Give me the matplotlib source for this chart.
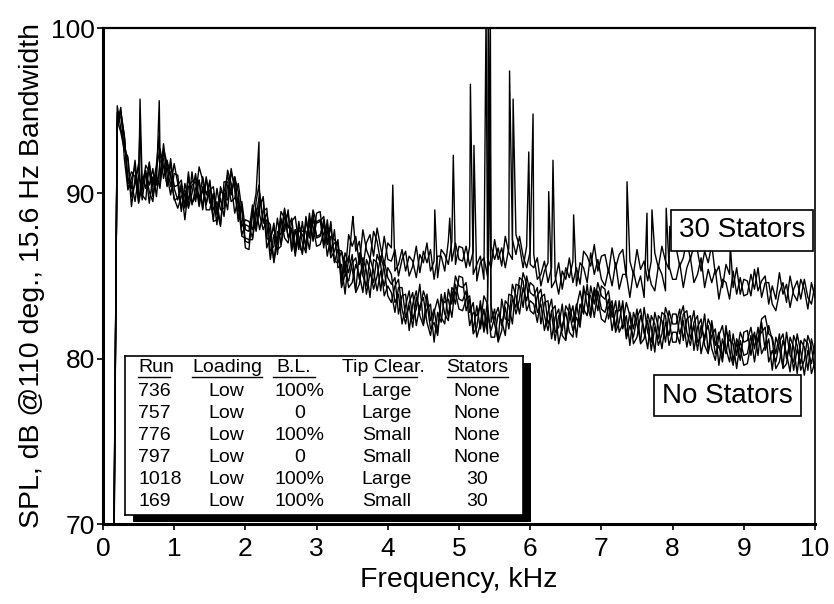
import numpy as np
import matplotlib.pyplot as plt
from matplotlib.patches import Rectangle

plt.rcParams['font.family'] = ['Liberation Sans', 'DejaVu Sans']

# narrowband spectra on a 50 Hz grid, 0.15 - 10 kHz
freq = np.linspace(0.15, 10.0, 198)

run_736 = [
    66.0, 94.9, 94.9, 93.5, 90.5, 90.3, 92.0, 89.7, 90.7, 91.4, 89.4, 91.0, 90.5, 92.5, 90.9, 92.0, 91.0, 89.7,
    89.1, 89.8, 90.2, 89.3, 91.3, 89.5, 90.8, 89.0, 90.9, 89.8, 88.4, 90.3, 89.0, 89.1, 91.4, 90.6, 88.8, 89.7, 88.0, 88.4,
    88.3, 87.8, 89.1, 87.8, 88.9, 89.1, 86.5, 86.8, 88.5, 86.9, 88.1, 88.9, 86.5, 87.8, 86.6, 88.3, 86.6, 88.4, 88.0, 86.8,
    86.9, 87.6, 88.0, 86.3, 87.8, 85.5, 85.7, 83.9, 86.2, 85.4, 84.1, 86.4, 85.0, 84.4, 86.1, 85.3, 84.1, 85.3, 84.4, 85.5,
    85.1, 83.4, 83.9, 82.1, 83.2, 84.1, 82.4, 83.0, 84.5, 82.1, 83.0, 83.3, 81.0, 82.8, 82.2, 84.0, 82.5, 84.3, 84.0, 83.0,
    82.9, 83.6, 83.8, 81.7, 83.2, 81.8, 83.0, 81.5, 83.2, 82.1, 81.1, 83.6, 82.4, 82.3, 84.5, 83.8, 82.7, 84.3, 83.5, 84.6,
    84.4, 82.8, 83.3, 81.7, 82.8, 83.6, 81.6, 81.9, 83.3, 81.2, 82.4, 83.2, 81.3, 83.3, 82.7, 84.5, 82.7, 84.3, 83.6, 82.4,
    82.2, 83.1, 83.5, 81.8, 83.5, 81.8, 82.6, 80.8, 82.8, 82.1, 81.0, 83.1, 81.6, 81.0, 82.8, 81.9, 80.6, 82.2, 81.4, 82.7,
    82.7, 81.5, 82.3, 80.7, 81.9, 82.9, 81.0, 81.3, 82.7, 80.4, 81.4, 81.8, 79.6, 81.2, 80.3, 81.7, 79.8, 81.2, 80.6, 79.6,
    79.7, 80.9, 81.6, 80.2, 82.2, 80.5, 81.2, 79.3, 81.3, 80.6, 79.5, 81.6, 80.2, 79.8, 81.5, 80.4, 79.0, 80.5, 79.7, 80.9,
]
run_757 = [
    67.0, 94.2, 95.2, 92.1, 90.2, 90.9, 91.6, 89.4, 90.5, 91.3, 90.1, 89.5, 91.5, 92.7, 91.6, 90.5, 91.8, 90.4,
    90.5, 90.8, 89.2, 91.0, 89.4, 89.8, 91.6, 90.8, 89.0, 89.0, 90.0, 89.0, 88.0, 90.7, 90.7, 89.5, 89.7, 90.6, 89.0, 86.7,
    86.6, 88.8, 90.0, 88.7, 87.8, 88.4, 88.1, 85.8, 87.2, 88.5, 87.3, 87.0, 88.3, 88.6, 86.9, 86.4, 88.3, 87.4, 89.0, 88.2,
    88.3, 88.6, 87.0, 88.0, 85.9, 85.8, 86.5, 85.7, 84.3, 84.6, 85.7, 85.1, 84.0, 86.0, 85.4, 84.2, 85.0, 86.2, 85.4, 83.8,
    83.4, 84.4, 84.8, 83.0, 82.1, 83.4, 84.0, 82.0, 83.2, 83.7, 82.2, 81.4, 82.8, 83.6, 82.5, 82.1, 84.2, 83.3, 85.0, 84.4,
    84.3, 84.6, 82.8, 83.4, 81.3, 82.1, 83.8, 83.3, 81.3, 81.3, 82.7, 82.3, 81.4, 83.9, 83.8, 82.7, 83.6, 85.2, 84.5, 82.9,
    82.7, 83.8, 84.2, 82.6, 81.7, 82.9, 83.2, 80.9, 82.0, 82.8, 81.6, 81.3, 83.1, 84.1, 83.0, 82.6, 84.4, 83.3, 84.6, 83.8,
    83.6, 84.1, 82.5, 83.5, 81.6, 82.1, 83.4, 82.6, 80.9, 81.3, 82.6, 81.8, 80.6, 82.6, 82.1, 80.8, 81.5, 83.1, 82.4, 81.0,
    81.0, 82.5, 83.2, 81.6, 80.8, 82.2, 82.6, 80.3, 81.4, 82.0, 80.6, 79.9, 81.4, 82.0, 80.6, 79.8, 81.5, 80.2, 81.6, 81.0,
    81.1, 81.9, 80.6, 81.9, 80.3, 80.8, 82.0, 81.1, 79.4, 79.8, 81.1, 80.3, 79.2, 81.4, 80.8, 79.3, 79.9, 81.4, 80.7, 79.2,
]
run_776 = [
    65.0, 95.3, 93.9, 92.9, 92.0, 89.2, 90.9, 91.5, 89.9, 89.6, 91.8, 90.4, 91.7, 90.7, 93.0, 91.1, 89.9, 91.2,
    91.1, 89.1, 90.0, 89.1, 90.0, 91.2, 89.6, 91.0, 89.9, 90.7, 88.3, 88.4, 90.1, 90.0, 89.0, 91.3, 90.5, 88.5, 89.5, 87.8,
    87.7, 89.3, 87.9, 89.5, 89.6, 86.7, 87.4, 87.9, 86.6, 86.8, 89.0, 87.9, 88.5, 86.6, 88.3, 87.0, 86.4, 88.2, 87.3, 88.8,
    88.9, 86.9, 87.8, 86.1, 86.5, 87.2, 84.5, 85.9, 85.2, 86.3, 84.0, 84.5, 86.1, 85.3, 83.7, 86.0, 85.8, 84.1, 85.9, 84.9,
    84.5, 84.9, 82.7, 83.8, 83.9, 81.7, 83.3, 84.1, 82.6, 82.0, 83.9, 82.3, 83.0, 81.6, 83.9, 82.7, 82.3, 84.1, 83.3, 85.0,
    84.9, 82.9, 83.6, 81.5, 81.9, 83.5, 81.8, 83.5, 82.2, 83.0, 81.0, 81.7, 83.5, 83.2, 82.1, 84.5, 84.4, 83.1, 85.0, 84.0,
    83.8, 84.3, 82.1, 83.4, 83.5, 81.2, 82.5, 83.0, 81.4, 81.1, 83.3, 82.2, 83.3, 82.1, 84.4, 83.2, 82.5, 84.1, 82.9, 84.4,
    84.2, 82.4, 83.3, 81.6, 82.2, 83.5, 81.4, 82.8, 81.8, 83.0, 80.9, 81.2, 82.7, 81.9, 80.4, 82.6, 82.3, 81.0, 82.9, 82.1,
    82.1, 83.0, 81.1, 82.4, 82.6, 80.5, 81.9, 82.4, 80.8, 80.3, 82.3, 80.8, 81.6, 80.0, 82.0, 80.4, 79.6, 81.0, 79.9, 81.6,
    81.7, 80.2, 81.4, 81.0, 82.4, 82.6, 81.5, 81.3, 80.3, 81.5, 79.4, 79.7, 81.3, 80.7, 79.1, 81.1, 80.7, 79.3, 81.2, 80.3,
]
run_797 = [
    68.0, 94.0, 95.0, 93.4, 90.6, 90.7, 89.5, 91.1, 90.2, 91.7, 91.3, 89.9, 90.9, 90.5, 92.7, 91.8, 91.2, 89.6,
    89.7, 90.3, 88.4, 90.4, 90.7, 90.9, 89.4, 90.2, 89.4, 90.2, 90.4, 88.7, 89.7, 88.6, 90.5, 89.9, 91.0, 90.1, 87.4, 87.3,
    87.2, 87.2, 89.5, 90.0, 88.2, 88.2, 86.0, 87.5, 86.9, 88.9, 88.5, 87.4, 87.7, 86.4, 88.0, 87.7, 87.7, 86.6, 88.5, 87.4,
    87.5, 88.1, 86.2, 87.4, 87.2, 86.9, 84.3, 85.1, 84.7, 85.8, 86.1, 84.8, 85.7, 83.9, 85.2, 84.6, 86.3, 85.7, 83.8, 84.4,
    84.0, 82.8, 84.3, 84.3, 82.5, 83.2, 81.9, 83.7, 82.9, 84.1, 83.4, 81.8, 82.2, 81.4, 83.6, 83.4, 83.6, 82.5, 84.5, 83.6,
    83.5, 84.1, 82.0, 82.8, 82.6, 83.2, 81.6, 82.7, 81.7, 82.5, 83.1, 82.0, 83.1, 81.8, 83.6, 83.1, 84.9, 84.7, 82.9, 83.5,
    83.3, 82.2, 83.7, 83.9, 82.1, 82.7, 81.1, 82.6, 81.7, 83.2, 82.8, 81.7, 82.5, 81.9, 84.1, 83.9, 83.8, 82.5, 84.1, 83.0,
    82.8, 83.6, 81.7, 82.9, 82.9, 83.2, 81.2, 82.0, 81.3, 82.5, 83.0, 81.5, 82.3, 80.5, 81.9, 81.2, 82.8, 82.6, 80.8, 81.6,
    81.6, 80.9, 82.7, 82.9, 81.2, 82.0, 80.5, 82.0, 81.1, 82.4, 81.8, 80.3, 80.8, 79.8, 81.7, 81.1, 80.9, 79.4, 81.1, 80.2,
    80.3, 81.4, 79.8, 81.3, 81.6, 81.9, 79.8, 80.5, 79.8, 81.0, 81.5, 80.0, 80.9, 79.3, 80.6, 79.7, 81.2, 80.9, 79.1, 79.8,
]
run_1018 = [
    66.5, 94.7, 94.6, 93.4, 90.7, 91.3, 91.0, 89.5, 91.0, 90.3, 91.9, 89.8, 91.1, 90.3, 92.5, 91.6, 90.4, 91.8,
    90.6, 88.9, 90.6, 89.6, 90.5, 90.7, 89.2, 90.4, 89.3, 90.8, 89.0, 89.5, 88.1, 90.1, 91.1, 90.0, 91.0, 89.2, 87.5, 88.1,
    88.0, 87.3, 88.6, 90.0, 88.3, 88.8, 87.5, 85.9, 87.7, 87.5, 89.1, 87.3, 87.9, 86.2, 87.8, 87.5, 86.9, 88.8, 87.1, 88.3,
    88.4, 86.7, 88.4, 86.6, 87.0, 87.0, 84.9, 86.4, 85.8, 88.2, 86.5, 87.1, 85.5, 87.0, 87.5, 86.2, 87.9, 86.7, 85.7, 87.0,
    86.7, 85.3, 85.7, 86.6, 85.3, 86.2, 85.9, 84.9, 86.3, 85.8, 87.0, 85.3, 85.9, 84.9, 86.6, 86.3, 85.7, 87.1, 85.7, 86.8,
    86.7, 85.5, 86.8, 85.1, 85.7, 86.2, 84.8, 86.1, 85.5, 87.2, 86.0, 86.7, 85.5, 86.7, 87.2, 86.3, 87.4, 86.2, 85.5, 86.5,
    86.3, 84.8, 85.1, 85.9, 84.6, 85.5, 85.0, 83.9, 85.3, 84.8, 86.1, 84.6, 85.5, 84.5, 86.5, 86.2, 85.6, 86.9, 85.3, 86.2,
    86.3, 85.2, 86.7, 85.5, 86.3, 86.6, 84.9, 85.9, 85.1, 86.6, 85.4, 85.9, 84.7, 85.9, 86.4, 85.5, 86.8, 85.9, 85.4, 86.7,
    86.7, 85.6, 86.1, 87.2, 86.0, 86.9, 86.5, 85.3, 86.5, 85.8, 86.9, 85.1, 85.6, 84.3, 85.7, 85.1, 84.3, 85.5, 83.9, 84.8,
    84.7, 83.8, 85.4, 84.1, 84.7, 85.0, 83.3, 84.4, 83.6, 85.2, 83.9, 84.5, 83.1, 84.2, 84.7, 83.6, 84.8, 83.7, 83.3, 84.5,
]
run_169 = [
    67.5, 94.4, 93.7, 92.6, 92.2, 89.8, 90.6, 91.8, 89.6, 91.2, 90.5, 91.5, 89.8, 91.9, 92.1, 90.4, 92.1, 90.3,
    89.6, 90.6, 89.1, 91.3, 89.3, 90.3, 90.8, 89.1, 91.0, 89.4, 89.9, 88.1, 90.4, 89.7, 89.6, 91.5, 90.2, 88.3, 89.2, 87.1,
    87.0, 89.0, 87.7, 89.2, 89.8, 87.3, 87.1, 88.2, 86.3, 88.4, 87.7, 89.0, 86.6, 87.8, 87.4, 86.3, 88.6, 87.3, 88.8, 87.3,
    87.4, 88.4, 86.9, 88.3, 85.8, 86.6, 86.5, 85.1, 87.5, 86.8, 87.4, 85.7, 87.8, 86.6, 86.0, 87.7, 87.1, 85.8, 87.4, 86.0,
    85.9, 86.6, 85.0, 86.0, 86.5, 85.0, 85.6, 86.8, 85.2, 86.5, 85.8, 86.6, 84.8, 86.2, 86.2, 85.3, 87.1, 85.9, 87.0, 86.0,
    85.9, 86.8, 85.6, 86.5, 84.7, 85.8, 86.1, 85.0, 86.8, 86.0, 86.7, 85.6, 87.4, 86.4, 86.0, 87.5, 86.8, 85.5, 86.8, 85.7,
    85.5, 86.1, 84.4, 85.3, 85.8, 84.3, 84.7, 85.8, 84.2, 85.5, 84.9, 85.9, 84.4, 85.8, 85.5, 84.6, 86.4, 85.1, 86.0, 84.8,
    84.4, 85.4, 84.4, 85.8, 84.2, 85.1, 85.1, 83.7, 85.3, 84.3, 85.0, 83.7, 85.5, 84.5, 84.1, 85.6, 85.1, 84.1, 85.6, 84.8,
    84.8, 85.8, 84.3, 85.5, 86.1, 84.6, 85.1, 86.1, 84.3, 85.4, 84.6, 85.4, 83.6, 84.8, 84.6, 83.6, 85.3, 83.9, 84.9, 83.8,
    83.9, 85.1, 84.2, 85.5, 83.7, 84.6, 84.6, 83.3, 82.9, 84.0, 84.6, 83.4, 85.0, 83.9, 83.5, 84.8, 84.2, 83.0, 84.6, 83.7,
]

# discrete tones (kHz, dB)
tones_736 = [(0.52, 95.7), (0.79, 95.6), (5.41, 101.0)]
tones_757 = [(2.19, 93.1)]
tones_776 = [(0.52, 94.0), (0.79, 93.5), (5.44, 92.2)]
tones_797 = [(2.19, 90.5)]
tones_1018 = [(3.51, 88.6), (4.07, 90.5), (4.66, 89.0), (4.92, 92.3), (5.16, 96.6), (5.38, 101.0),
              (5.71, 97.4), (6.04, 94.8), (6.32, 92.0), (7.36, 90.7), (7.71, 89.0), (7.96, 88.0),
              (8.81, 86.9)]
tones_169 = [(4.87, 88.5), (5.21, 92.9), (5.44, 101.0), (5.76, 95.7), (5.98, 92.5), (6.26, 90.1),
             (6.61, 88.7), (7.64, 88.8), (7.91, 89.1)]

runs = ["736", "757", "776", "797", "1018", "169"]
loading = ["Low", "Low", "Low", "Low", "Low", "Low"]
blayer = ["100%", "0", "100%", "0", "100%", "100%"]
tip_clear = ["Large", "Large", "Small", "Small", "Large", "Small"]
stators = ["None", "None", "None", "None", "30", "30"]

spectra = [(run_736, tones_736), (run_757, tones_757), (run_776, tones_776),
           (run_797, tones_797), (run_1018, tones_1018), (run_169, tones_169)]


def with_tones(levels, tones):
    f = np.concatenate([freq, [t[0] for t in tones]])
    v = np.concatenate([levels, [t[1] for t in tones]])
    order = np.argsort(f, kind='stable')
    return f[order], v[order]


W, H = 834, 604
fig = plt.figure(figsize=(W / 100, H / 100), dpi=100)
ax = fig.add_axes([103 / W, 80 / H, 712 / W, 496 / H])

for levels, tones in spectra:
    f, v = with_tones(levels, tones)
    ax.plot(f, v, color='black', lw=1.0)

ax.set_xlim(0, 10)
ax.set_ylim(70, 100)
ax.set_xticks(range(0, 11))
ax.set_yticks([70, 80, 90, 100])
ax.tick_params(axis='both', direction='out', length=4, width=1.2, labelsize=19)
ax.tick_params(axis='x', pad=5)
ax.tick_params(axis='y', pad=2)
ax.spines['left'].set_linewidth(2.2)
ax.spines['bottom'].set_linewidth(2.2)
ax.spines['top'].set_linewidth(1.6)
ax.spines['right'].set_linewidth(1.2)

ax.set_xlabel('Frequency, kHz', fontsize=20.5, labelpad=5)
ax.set_ylabel('SPL, dB @110 deg., 15.6 Hz Bandwidth', fontsize=20.5, labelpad=4)

box = dict(boxstyle='square,pad=0.28', fc='white', ec='black', lw=1.2)
ax.text(8.98, 87.76, '30 Stators', fontsize=20, ha='center', va='center', bbox=box, zorder=5)
ax.text(8.77, 77.76, 'No Stators', fontsize=20, ha='center', va='center', bbox=box, zorder=5)

# run table with drop shadow
shadow = Rectangle((133 / W, 1 - 522 / H), 398 / W, 159 / H,
                   transform=fig.transFigure, facecolor='black', edgecolor='none', zorder=2)
fig.add_artist(shadow)

tab = fig.add_axes([125 / W, 1 - 515 / H, 398 / W, 159 / H])
tab.set_zorder(3)
tab.set_xlim(0, 398)
tab.set_ylim(159, 0)
tab.set_xticks([])
tab.set_yticks([])
for s in tab.spines.values():
    s.set_linewidth(1.2)

fs = 14
tab.text(13, 12, 'Run', fontsize=fs, ha='left', va='center')
tab.text(102, 12, 'Loading', fontsize=fs, ha='center', va='center')
tab.text(169, 12, 'B.L.', fontsize=fs, ha='center', va='center')
tab.text(258, 12, 'Tip Clear.', fontsize=fs, ha='center', va='center')
tab.text(352, 12, 'Stators', fontsize=fs, ha='center', va='center')
for x0, x1 in [(13, 45), (67, 137), (148, 190), (248, 292), (322, 383)]:
    tab.plot([x0, x1], [21, 21], color='black', lw=1.0)

row_y = [35, 57, 79, 101, 123, 146]
for i, y in enumerate(row_y):
    tab.text(13, y, runs[i], fontsize=fs, ha='left', va='center')
    tab.text(101, y, loading[i], fontsize=fs, ha='center', va='center')
    tab.text(175, y, blayer[i], fontsize=fs, ha='center', va='center')
    tab.text(262, y, tip_clear[i], fontsize=fs, ha='center', va='center')
    tab.text(352, y, stators[i], fontsize=fs, ha='center', va='center')

fig.savefig('out.png', dpi=100)
